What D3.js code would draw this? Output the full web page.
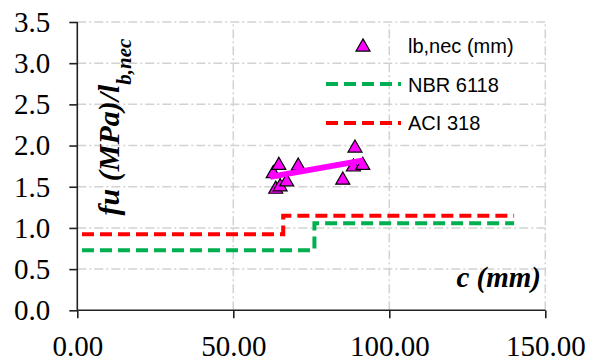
<!DOCTYPE html>
<html>
<head>
<meta charset="utf-8">
<script src="https://cdn.jsdelivr.net/npm/d3@7"></script>
</head>
<body style="margin:0;background:#fff">
<svg width="600" height="362" font-family="Liberation Serif"></svg>
<script>
// measured points (c in mm, fu/lb,nec)
const cValues     = [62.8, 64.6, 63.6, 65.0, 67.1, 70.8, 85.1, 88.5, 89.0, 91.5];
const ratioValues = [1.66, 1.76, 1.47, 1.50, 1.56, 1.75, 1.58, 1.74, 1.97, 1.76];

// trend line of the points
const trendC     = [61.8, 91.7];
const trendRatio = [1.62, 1.82];

// NBR 6118 step
const nbrC     = [1.5, 76, 76, 140];
const nbrRatio = [0.73, 0.73, 1.056, 1.056];

// ACI 318 step
const aciC     = [1.5, 66, 66, 140];
const aciRatio = [0.922, 0.922, 1.148, 1.148];

const xTicks = [0, 50, 100, 150];
const yTicks = [0, 0.5, 1.0, 1.5, 2.0, 2.5, 3.0, 3.5];

const legendLabels = ["lb,nec (mm)", "NBR 6118", "ACI 318"];

const serifFont = "Liberation Serif, serif";
const sansFont = "Liberation Sans, sans-serif";

const svg = d3.select("svg");

const x = d3.scaleLinear().domain([0, 150]).range([77.3, 545.3]);
const y = d3.scaleLinear().domain([0, 3.5]).range([310.3, 22]);

const gridColor = "#d2d2d2";
const gridDash = "9,3,2,3";

// gridlines
svg.append("g").selectAll("line")
  .data(yTicks.filter(d => d > 0))
  .enter().append("line")
  .attr("x1", x(0)).attr("x2", x(150))
  .attr("y1", d => y(d)).attr("y2", d => y(d))
  .attr("stroke", gridColor).attr("stroke-width", 1.5)
  .attr("stroke-dasharray", gridDash);

svg.append("g").selectAll("line")
  .data(xTicks.filter(d => d > 0))
  .enter().append("line")
  .attr("x1", d => x(d)).attr("x2", d => x(d))
  .attr("y1", y(0)).attr("y2", y(3.5))
  .attr("stroke", gridColor).attr("stroke-width", 1.5)
  .attr("stroke-dasharray", gridDash);

// axes
const yAxis = d3.axisLeft(y).tickValues(yTicks).tickSize(8).tickPadding(19).tickFormat(d3.format(".1f"));
const xAxis = d3.axisBottom(x).tickValues(xTicks).tickSize(8).tickPadding(19).tickFormat(d3.format(".2f"));

const gy = svg.append("g").attr("transform", `translate(${x(0)},0)`).call(yAxis);
const gx = svg.append("g").attr("transform", `translate(0,${y(0)})`).call(xAxis);

[gy, gx].forEach(g => {
  g.attr("font-family", serifFont).attr("font-size", 29);
  g.select(".domain").attr("stroke", "#222").attr("stroke-width", 1.6);
  g.selectAll(".tick line").attr("stroke", "#222").attr("stroke-width", 1.6);
  g.selectAll(".tick text")
    .attr("font-family", serifFont)
    .style("font-family", serifFont)
    .style("font-size", "29px")
    .attr("fill", "#000");
});
gy.select(".domain").attr("d", `M0,${y(3.5)}V${y(0)}`);
gx.select(".domain").attr("d", `M${x(0)},0H${x(150)}`);
gx.selectAll(".tick text").attr("dy", null).attr("y", 46);

// step lines
const line = d3.line().x(d => x(d[0])).y(d => y(d[1]));

svg.append("path")
  .datum(nbrC.map((c, i) => [c, nbrRatio[i]]))
  .attr("d", line)
  .attr("fill", "none").attr("stroke", "#00b050").attr("stroke-width", 4)
  .attr("stroke-dasharray", "12,6");

svg.append("path")
  .datum(aciC.map((c, i) => [c, aciRatio[i]]))
  .attr("d", line)
  .attr("fill", "none").attr("stroke", "#ff0000").attr("stroke-width", 4)
  .attr("stroke-dasharray", "12,6");

// points
const tri = d3.symbol().type(d3.symbolTriangle).size(85);

svg.append("g").selectAll("path")
  .data(cValues.map((c, i) => [c, ratioValues[i]]))
  .enter().append("path")
  .attr("d", tri)
  .attr("transform", d => `translate(${x(d[0])},${y(d[1])})`)
  .attr("fill", "#ff00ff").attr("stroke", "#000").attr("stroke-width", 1.2);

// trend line
svg.append("path")
  .datum(trendC.map((c, i) => [c, trendRatio[i]]))
  .attr("d", line)
  .attr("fill", "none").attr("stroke", "#ff00ff").attr("stroke-width", 6);

// axis titles
const yt = svg.append("text")
  .attr("transform", "translate(119,127) rotate(-90)")
  .attr("text-anchor", "middle")
  .attr("font-family", serifFont)
  .style("font-family", serifFont)
  .style("font-weight", "bold")
  .style("font-style", "italic")
  .style("font-size", "30px");
yt.append("tspan").text("fu (MPa)/l");
yt.append("tspan").attr("baseline-shift", "sub").style("font-size", "21px").text("b,nec");

svg.append("text")
  .attr("x", 541).attr("y", 287)
  .attr("text-anchor", "end")
  .attr("font-family", serifFont)
  .style("font-family", serifFont)
  .style("font-weight", "bold")
  .style("font-style", "italic")
  .style("font-size", "29px")
  .text("c (mm)");

// legend
const legend = svg.append("g");
legend.append("path")
  .attr("d", tri)
  .attr("transform", "translate(363,47)")
  .attr("fill", "#ff00ff").attr("stroke", "#000").attr("stroke-width", 1.2);
legend.append("line")
  .attr("x1", 326).attr("x2", 401).attr("y1", 84).attr("y2", 84)
  .attr("stroke", "#00b050").attr("stroke-width", 4).attr("stroke-dasharray", "12,6");
legend.append("line")
  .attr("x1", 326).attr("x2", 401).attr("y1", 123).attr("y2", 123)
  .attr("stroke", "#ff0000").attr("stroke-width", 4).attr("stroke-dasharray", "12,6");

legend.selectAll("text")
  .data(legendLabels)
  .enter().append("text")
  .attr("x", 408)
  .attr("y", (d, i) => 53 + i * 38.5)
  .attr("font-family", sansFont)
  .style("font-family", sansFont)
  .style("font-size", "20px")
  .text(d => d);
</script>
</body>
</html>
